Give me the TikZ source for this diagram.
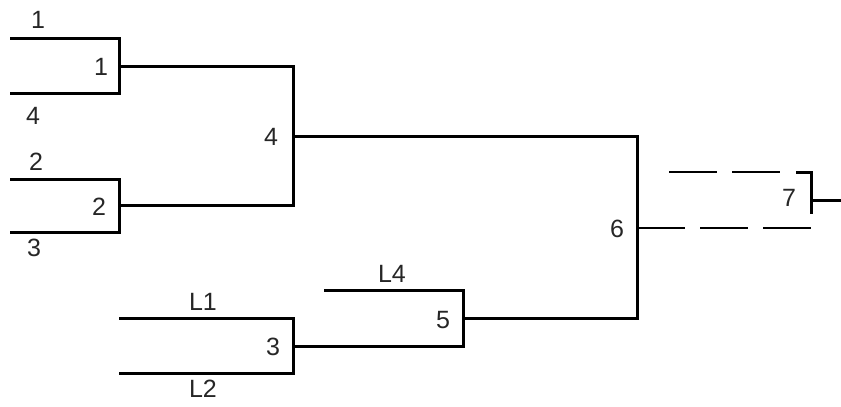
\documentclass[tikz,border=0pt]{standalone}
\usepackage{fontspec}
\setmainfont{Liberation Sans}
\begin{document}
\begin{tikzpicture}[x=1pt,y=-1pt,
  br/.style={line width=3pt,line cap=rect},
  dsh/.style={line width=2.6pt,dash pattern=on 48pt off 15pt},
  lbl/.style={font=\fontsize{25}{25}\selectfont,text=black!85,inner sep=0pt}]
\useasboundingbox (0,0) rectangle (841,407);
% coordinates
\coordinate (a1) at (11,38);  \coordinate (b1) at (119,38);
\coordinate (a4) at (11,93);  \coordinate (b4) at (119,93);
\coordinate (m1) at (119,66); \coordinate (r1) at (293,66);
\coordinate (a2) at (11,179); \coordinate (b2) at (119,179);
\coordinate (a3) at (11,232); \coordinate (b3) at (119,232);
\coordinate (m2) at (119,205); \coordinate (r2) at (293,205);
\coordinate (m4) at (293,136); \coordinate (r4) at (637,136);
\coordinate (l1a) at (120,318); \coordinate (l1b) at (293,318);
\coordinate (l2a) at (120,373); \coordinate (l2b) at (293,373);
\coordinate (m3) at (293,346); \coordinate (r3) at (463,346);
\coordinate (l4a) at (325,290); \coordinate (l4b) at (463,290);
\coordinate (m5) at (463,318); \coordinate (r5) at (637,318);
\coordinate (m6) at (637,228); \coordinate (r6) at (812,228);
\coordinate (t7a) at (669,172); \coordinate (t7c) at (781,172);
\coordinate (c7) at (797,172); \coordinate (t7b) at (811,172);
\coordinate (v7) at (811,212);
\coordinate (m7) at (811,200); \coordinate (r7) at (841,200);
% brackets
\draw[br] (a1) -- (b1) -- (b4) -- (a4);
\draw[br] (m1) -- (r1);
\draw[br] (a2) -- (b2) -- (b3) -- (a3);
\draw[br] (m2) -- (r2);
\draw[br] (r1) -- (r2);
\draw[br] (m4) -- (r4);
\draw[br] (l1a) -- (l1b) -- (l2b) -- (l2a);
\draw[br] (m3) -- (r3);
\draw[br] (l4a) -- (l4b) -- (r3);
\draw[br] (m5) -- (r5);
\draw[br] (r4) -- (r5);
\draw[dsh] (m6) -- (r6);
\draw[dsh] (t7a) -- (t7c);
\draw[br] (c7) -- (t7b) -- (v7);
\draw[br] (m7) -- (r7);
% labels
\node[lbl] (s1) at (38,20) {1};
\node[lbl] (s4) at (33,116) {4};
\node[lbl] (s2) at (36,162) {2};
\node[lbl] (s3) at (34,248) {3};
\node[lbl] (w1) at (101,67) {1};
\node[lbl] (w2) at (99,207) {2};
\node[lbl] (w4) at (271,137) {4};
\node[lbl] (nL1) at (203,302) {L1};
\node[lbl] (nL2) at (203,389) {L2};
\node[lbl] (nL4) at (392,274) {L4};
\node[lbl] (w3) at (273,347) {3};
\node[lbl] (w5) at (443,320) {5};
\node[lbl] (w6) at (617,229) {6};
\node[lbl] (w7) at (789,198) {7};
\end{tikzpicture}
\end{document}
